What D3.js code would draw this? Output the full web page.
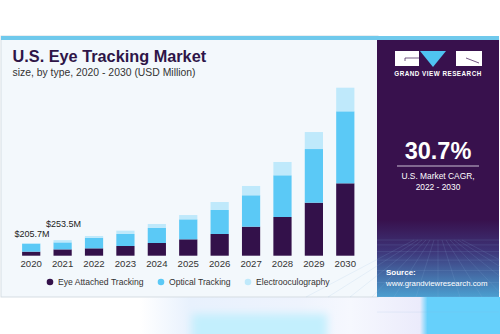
<!DOCTYPE html>
<html><head><meta charset="utf-8">
<script src="https://cdn.jsdelivr.net/npm/d3@7"></script>
<style>body{margin:0;background:#fff;}svg{display:block;font-family:"Liberation Sans",Arial,sans-serif;}</style>
</head><body>
<svg id="c" width="500" height="334"></svg>
<script>
const years = ["2020","2021","2022","2023","2024","2025","2026","2027","2028","2029","2030"];
const eyeAttached = [66, 103, 120, 158, 207, 267, 354, 473, 631, 864, 1180];
const optical = [130, 114, 173, 196, 245, 326, 391, 512, 680, 875, 1174];
const electro = [9.7, 36.5, 28, 54, 65, 70, 130, 152, 217, 277, 385];
const seriesNames = ["Eye Attached Tracking", "Optical Tracking", "Electrooculography"];
const annotations = [{year:"2020", label:"$205.7M"}, {year:"2021", label:"$253.5M"}];

const colors = ["#33114a", "#5bc9f6", "#bfe9fb"];
const svg = d3.select("#c");
const defs = svg.append("defs");
defs.append("filter").attr("id","blur").attr("x","-20%").attr("y","-50%").attr("width","140%").attr("height","200%")
  .append("feGaussianBlur").attr("stdDeviation",4);

// bottom decoration
const bg = defs.append("linearGradient").attr("id","bottomGrad").attr("x1","0").attr("x2","1");
[[0,"#ffffff"],[0.28,"#ffffff"],[0.38,"#e8f1fd"],[0.6,"#eef3fd"],[0.7,"#f6f8fe"],[0.84,"#ebebfb"],[0.855,"#66d0fb"],[1,"#66d0fb"]]
  .forEach(([o,c])=>bg.append("stop").attr("offset",o).attr("stop-color",c));
svg.append("rect").attr("x",0).attr("y",297).attr("width",500).attr("height",37).attr("fill","url(#bottomGrad)");
svg.append("rect").attr("x",192).attr("y",314).attr("width",135).attr("height",30).attr("fill","#c3effd").attr("filter","url(#blur)");

// left panel
svg.append("rect").attr("x",1).attr("y",36).attr("width",377).attr("height",261).attr("fill","#f3f8fc").attr("stroke","#d5dde3").attr("stroke-width",1);
svg.append("rect").attr("x",1).attr("y",36).attr("width",498).attr("height",4).attr("fill","#6fc9ec");

// right panel
const rg = defs.append("linearGradient").attr("id","rightGrad").attr("x1","0").attr("x2","0").attr("y1","0").attr("y2","1");
[[0,"#38114d"],[0.7,"#38114d"],[0.82,"#3d3478"],[1,"#4b9fd0"]].forEach(([o,c])=>rg.append("stop").attr("offset",o).attr("stop-color",c));
svg.append("rect").attr("x",377).attr("y",40).attr("width",122).attr("height",257).attr("fill","url(#rightGrad)");
const gridG = svg.append("g").attr("stroke","#8fb8e0").attr("stroke-opacity",0.25).attr("stroke-width",0.6);
for (let i=0;i<8;i++){ const yy=240+i*i*0.9+i*4; gridG.append("line").attr("x1",377).attr("x2",499).attr("y1",yy).attr("y2",yy); }
for (let i=-6;i<=6;i++){ gridG.append("line").attr("x1",438+i*4).attr("y1",240).attr("x2",438+i*22).attr("y2",297); }

// logo
const logo = svg.append("g");
logo.append("rect").attr("x",395).attr("y",51).attr("width",24).attr("height",15).attr("fill","#fff");
logo.append("rect").attr("x",456).attr("y",51).attr("width",26).attr("height",15).attr("fill","#fff");
logo.append("path").attr("d","M420,51 L446,51 L433,67 Z").attr("fill","#4fc3f1");
logo.append("path").attr("d","M405,61 L405,58 L419,58").attr("fill","none").attr("stroke","#38114d").attr("stroke-width",0.7);
logo.append("path").attr("d","M466,58 L479,63").attr("fill","none").attr("stroke","#38114d").attr("stroke-width",0.7);
svg.append("text").attr("x",438).attr("y",76).attr("text-anchor","middle").attr("fill","#fff").attr("font-size",6.3).attr("font-weight","bold").attr("letter-spacing",0.5).text("GRAND VIEW RESEARCH");

svg.append("text").attr("x",438).attr("y",159).attr("text-anchor","middle").attr("fill","#fff").attr("font-size",23.5).attr("font-weight","bold").text("30.7%");
svg.append("line").attr("x1",397).attr("x2",479).attr("y1",166).attr("y2",166).attr("stroke","#c9c0d4").attr("stroke-width",1.2);
svg.append("text").attr("x",438).attr("y",179).attr("text-anchor","middle").attr("fill","#fff").attr("font-size",8.4).text("U.S. Market CAGR,");
svg.append("text").attr("x",438).attr("y",190).attr("text-anchor","middle").attr("fill","#fff").attr("font-size",8.4).text("2022 - 2030");
svg.append("text").attr("x",386).attr("y",275).attr("fill","#fff").attr("font-size",8).attr("font-weight","bold").text("Source:");
svg.append("text").attr("x",386).attr("y",286).attr("fill","#fff").attr("font-size",7.8).text("www.grandviewresearch.com");

// title
svg.append("text").attr("x",12.5).attr("y",62).attr("fill","#2e1548").attr("font-size",16.3).attr("font-weight","bold").text("U.S. Eye Tracking Market");
svg.append("text").attr("x",12.5).attr("y",76).attr("fill","#333").attr("font-size",10.4).text("size, by type, 2020 - 2030 (USD Million)");

// chart
const x = d3.scaleBand().domain(years).range([15.5, 361]).paddingInner(0.42).paddingOuter(0.21);
const y = d3.scaleLinear().domain([0, 2739]).range([255.7, 87.7]);
const data = years.map((yr,i)=>({year:yr, a:eyeAttached[i], b:optical[i], c:electro[i]}));
const stack = d3.stack().keys(["a","b","c"])(data);
svg.append("g").selectAll("g").data(stack).join("g").attr("fill",(d,i)=>colors[i])
  .selectAll("rect").data(d=>d).join("rect")
  .attr("x",d=>x(d.data.year)).attr("width",x.bandwidth())
  .attr("y",d=>y(d[1])).attr("height",d=>y(d[0])-y(d[1]));

const xAxis = svg.append("g").attr("transform","translate(0,255.7)").call(d3.axisBottom(x).tickSize(0).tickPadding(4.5));
xAxis.select(".domain").remove();
xAxis.selectAll("text").attr("font-size",9.6).attr("fill","#333").attr("font-family","Liberation Sans, Arial, sans-serif");

const annDy = [6, 13.5];
annotations.forEach((a,k)=>{
  const i = years.indexOf(a.year);
  const total = eyeAttached[i]+optical[i]+electro[i];
  svg.append("text").attr("x",x(a.year)-7.5).attr("y",y(total)-annDy[k])
    .attr("fill","#222").attr("font-size",9).text(a.label);
});

// legend
const legX = [50, 161, 248];
const leg = svg.append("g");
seriesNames.forEach((n,i)=>{
  leg.append("circle").attr("cx",legX[i]).attr("cy",282).attr("r",3.3).attr("fill",colors[i]);
  leg.append("text").attr("x",legX[i]+8).attr("y",285.2).attr("fill","#333").attr("font-size",8.6).text(n);
});
</script>
</body></html>
